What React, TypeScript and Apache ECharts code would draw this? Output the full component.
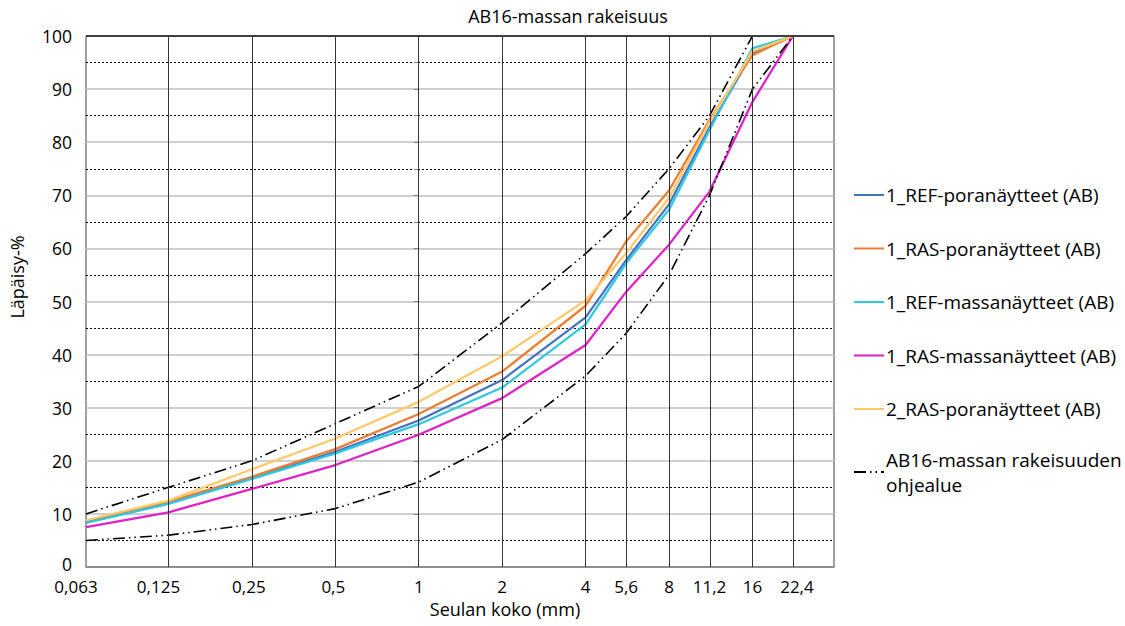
import React, { useEffect, useRef } from "react";
import * as echarts from "echarts";

const sieves = [0.063, 0.125, 0.25, 0.5, 1, 2, 4, 5.6, 8, 11.2, 16, 22.4];
const sieveLabels = ["0,063", "0,125", "0,25", "0,5", "1", "2", "4", "5,6", "8", "11,2", "16", "22,4"];

const ref1Pora = [8.4, 12.0, 16.8, 21.7, 27.6, 35.2, 47.0, 57.8, 68.3, 82.8, 96.8, 100];
const ras1Pora = [8.7, 12.3, 17.0, 22.2, 28.8, 36.8, 49.2, 61.3, 70.9, 84.2, 96.4, 100];
const ref1Massa = [8.3, 11.9, 16.6, 21.4, 26.9, 33.8, 45.7, 57.2, 67.3, 82.3, 97.7, 100];
const ras1Massa = [7.5, 10.3, 14.7, 19.2, 24.9, 31.8, 41.8, 51.8, 60.7, 70.7, 87.6, 100];
const ras2Pora = [8.8, 12.5, 18.4, 24.2, 31.1, 39.7, 50.2, 59.1, 69.5, 83.8, 97.1, 100];
const lowerLimit = [5, 6, 8, 11, 16, 24, 36, 44, 55, 70, 90, 100];
const upperLimit = [10, 15, 20, 27, 34, 46, 59, 66, 75, 85, 100, 100];

const seriesNames = [
  "1_REF-poranäytteet (AB)",
  "1_RAS-poranäytteet (AB)",
  "1_REF-massanäytteet (AB)",
  "1_RAS-massanäytteet (AB)",
  "2_RAS-poranäytteet (AB)",
];
const envelopeName = "AB16-massan rakeisuuden ohjealue";
const colors = ["#4472C4", "#ED7D31", "#2EC8E0", "#E020C8", "#FFC869"];

// label style key per sieve label (small horizontal nudges as in the original)
const labelStyleKeys = ["m10", "m10", "m3", "m2", "c", "c", "c", "c", "c", "c", "c", "p4"];

const FONT = "Open Sans";
const lg = (v: number) => Math.log2(v);
const xMin = lg(0.063);
const xMax = lg(0.063) + 8.966;

function pairs(vals: number[]) {
  return sieves.map((s, i) => [lg(s), vals[i]]);
}

export default function App() {
  const ref = useRef<HTMLDivElement>(null);
  useEffect(() => {
    if (!ref.current) return;
    const chart = echarts.init(ref.current, undefined, { renderer: "svg" });
    const dataSets = [ref1Pora, ras1Pora, ref1Massa, ras1Massa, ras2Pora];
    const envStyle = { color: "#000", width: 1.6, type: [12, 4, 1.5, 4, 1.5, 4] as any };
    const legendText = { fontSize: 19, color: "#000", fontFamily: FONT };
    const xl = { fontSize: 17, lineHeight: 14, color: "#000", fontFamily: FONT };
    const yl = { fontSize: 17.5, lineHeight: 16, color: "#000", fontFamily: FONT };
    const option: any = {
      animation: false,
      textStyle: { fontFamily: FONT },
      grid: {
        left: 86,
        top: 36,
        right: 1125 - 834,
        bottom: 626 - 567,
        show: true,
        borderColor: "#404040",
        borderWidth: 1,
      },
      xAxis: {
        type: "value",
        min: xMin,
        max: xMax,
        axisLine: { show: true, lineStyle: { color: "#808080", width: 1.5 } },
        axisTick: { show: false },
        splitLine: { show: false },
        axisLabel: {
          customValues: sieves.map(lg),
          ...xl,
          margin: 12,
          rich: {
            c: { ...xl },
            m10: { ...xl, padding: [0, 20, 0, 0] },
            m3: { ...xl, padding: [0, 6, 0, 0] },
            m2: { ...xl, padding: [0, 4, 0, 0] },
            p4: { ...xl, padding: [0, 0, 0, 8] },
          },
          formatter: (v: number) => {
            let best = 0;
            sieves.forEach((s, i) => {
              if (Math.abs(lg(s) - v) < Math.abs(lg(sieves[best]) - v)) best = i;
            });
            return `{${labelStyleKeys[best]}|${sieveLabels[best]}}`;
          },
        },
      },
      yAxis: {
        type: "value",
        min: 0,
        max: 100,
        interval: 10,
        axisLine: { show: false },
        axisTick: { show: true, length: 5, lineStyle: { color: "#808080" } },
        minorTick: { show: true, splitNumber: 2, length: 5, lineStyle: { color: "#808080" } },
        splitLine: { show: true, lineStyle: { color: "#BFBFBF", width: 1.5 } },
        minorSplitLine: { show: true, lineStyle: { color: "#000", width: 1, type: [2, 2] } },
        axisLabel: {
          ...yl,
          margin: 14,
          rich: { n: { ...yl }, z: { ...yl, padding: [0, 0, 6, 0] } },
          formatter: (v: number) => (v === 0 ? `{z|${v}}` : `{n|${v}}`),
        },
      },
      legend: [
        {
          data: seriesNames,
          orient: "vertical",
          left: 853,
          top: 184,
          padding: 0,
          itemWidth: 30,
          itemHeight: 14,
          itemGap: 31.5,
          itemStyle: { opacity: 0 },
          textStyle: { ...legendText, lineHeight: 22, padding: [0, 0, 0, -3] },
        },
        {
          data: [envelopeName],
          orient: "vertical",
          left: 853,
          top: 472 - 37.5,
          padding: 0,
          itemWidth: 30,
          itemHeight: 14,
          itemStyle: { opacity: 0 },
          formatter: () => "AB16-massan rakeisuuden\nohjealue",
          textStyle: { ...legendText, lineHeight: 25, padding: [25, 0, 0, -3] },
        },
      ],
      graphic: [
        {
          type: "text",
          x: 568,
          y: 16,
          style: { text: "AB16-massan rakeisuus", fontSize: 18, fontFamily: FONT, fill: "#000", align: "center", verticalAlign: "middle" },
        },
        {
          type: "text",
          x: 505,
          y: 609,
          style: { text: "Seulan koko (mm)", fontSize: 18, fontFamily: FONT, fill: "#000", align: "center", verticalAlign: "middle" },
        },
        {
          type: "text",
          x: 17,
          y: 277,
          rotation: Math.PI / 2,
          style: { text: "Läpäisy-%", fontSize: 18, fontFamily: FONT, fill: "#000", align: "center", verticalAlign: "middle" },
        },
      ],
      series: [
        {
          type: "line",
          name: "grid",
          data: [],
          z: 1,
          silent: true,
          markLine: {
            silent: true,
            symbol: "none",
            label: { show: false },
            lineStyle: { color: "#333", width: 1, type: "solid" },
            data: sieves.map((s) => ({ xAxis: lg(s) })),
          },
        },
        ...dataSets.map((d, i) => ({
          type: "line",
          name: seriesNames[i],
          data: pairs(d),
          symbol: "none",
          z: 3,
          lineStyle: { color: colors[i], width: 2.25 },
          itemStyle: { color: colors[i] },
        })),
        {
          type: "line",
          name: envelopeName,
          data: pairs(lowerLimit),
          symbol: "none",
          z: 4,
          lineStyle: envStyle,
          itemStyle: { color: "#000" },
        },
        {
          type: "line",
          name: envelopeName,
          data: pairs(upperLimit),
          symbol: "none",
          z: 4,
          lineStyle: envStyle,
          itemStyle: { color: "#000" },
        },
        {
          type: "line",
          name: "border",
          data: [],
          z: 5,
          silent: true,
          markLine: {
            silent: true,
            symbol: "none",
            label: { show: false },
            lineStyle: { color: "#404040", width: 2, type: "solid" },
            data: [{ yAxis: 100 }],
          },
        },
      ],
    };
    chart.setOption(option);
    return () => chart.dispose();
  }, []);
  return (
    <div
      ref={ref}
      style={{ position: "fixed", left: 0, top: 0, width: 1125, height: 626, background: "#fff" }}
    />
  );
}
